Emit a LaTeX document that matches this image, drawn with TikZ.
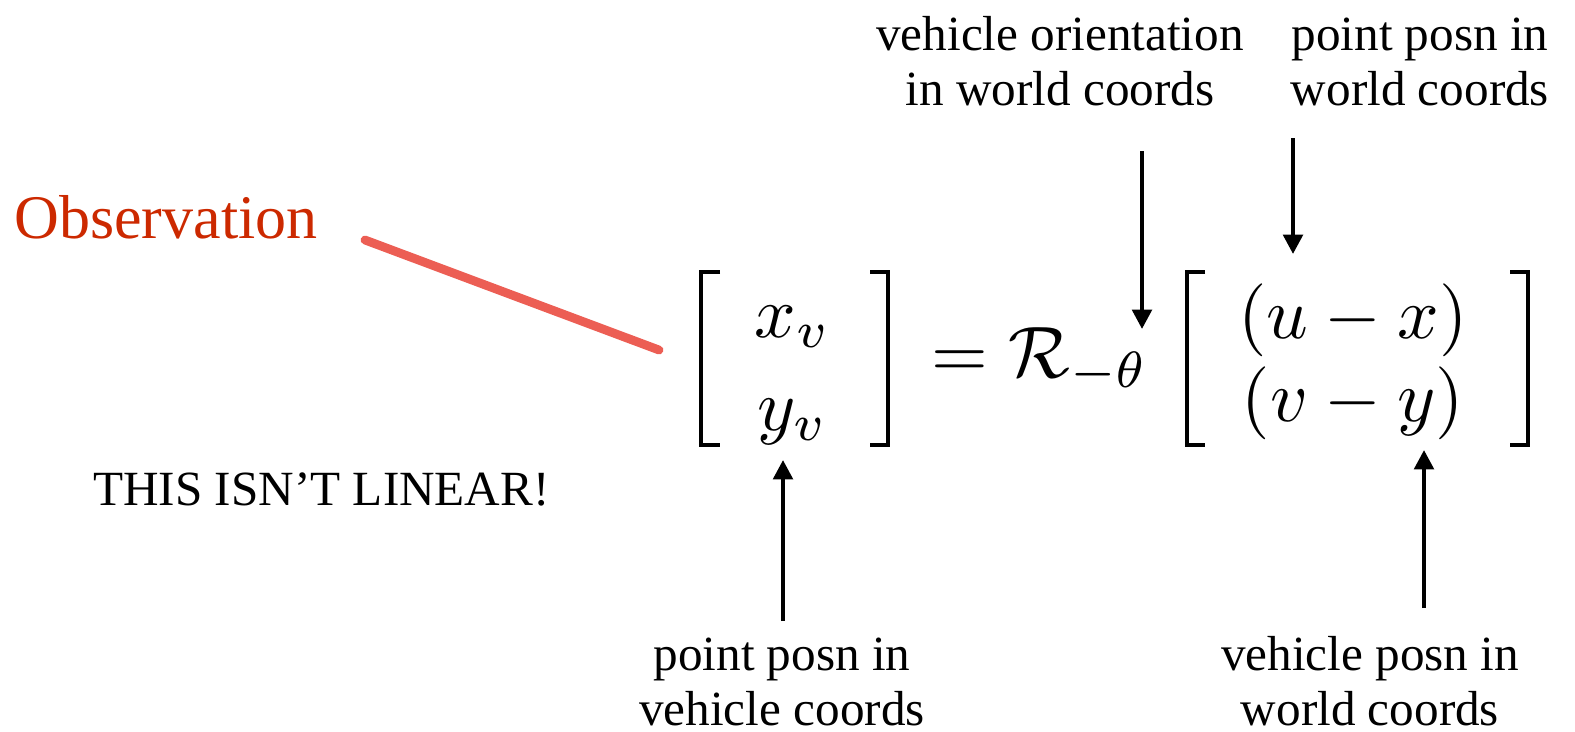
\documentclass[tikz,border=0pt]{standalone}
\usepackage[no-math]{fontspec}
\setmainfont{Liberation Serif}
\usepackage{amsmath,amssymb}
\usetikzlibrary{arrows.meta}
\definecolor{obsRed}{RGB}{204,41,0}
\definecolor{strokeRed}{RGB}{236,94,84}

\begin{document}
\begin{tikzpicture}[x=0.02cm,y=-0.02cm,
  lbl/.style={font=\fontsize{28}{31}\selectfont, align=center, anchor=base, inner sep=0pt},
  mth/.style={scale=4.15, anchor=base, inner sep=0pt},
  ptr/.style={line width=2.4pt, -{Triangle[width=11pt,length=11pt]}},
  brk/.style={line width=2.5pt}]
\useasboundingbox (0,0) rectangle (1575,731);

% left column
\node[lbl, text=obsRed, font=\fontsize{35.3}{42}\selectfont, anchor=base west] (obs) at (14,238) {Observation};
\node[lbl, anchor=base west] (lin) at (93,505) {THIS ISN'T LINEAR!};
\draw[strokeRed, line width=5pt, line cap=round] (365,240) -- (659,350);

% the equation
\node[mth] (xv) at (793,337) {$x_v$};
\node[mth] (yv) at (793,430) {$y_v$};
\node[mth, anchor=base west] (rot) at (930,377) {$=\mathcal{R}_{-\theta}$};
\node[mth] (ux) at (1353,338) {$(u-x)$};
\node[mth] (vy) at (1353,421) {$(v-y)$};
\draw[brk] (720,272) -| (701,445) -- (720,445);
\draw[brk] (870,272) -| (888,445) -- (870,445);
\draw[brk] (1205,272) -| (1187,445) -- (1205,445);
\draw[brk] (1510,272) -| (1528,445) -- (1510,445);

% labels (base = last line)
\node[lbl] (orient) at (1060,105) {vehicle orientation\\in world coords};
\node[lbl] (ptworld) at (1420,105) {point posn in\\world coords};
\node[lbl] (ptveh) at (782,725) {point posn in\\vehicle coords};
\node[lbl] (vehworld) at (1370,725) {vehicle posn in\\world coords};

% pointers
\coordinate (orientA) at (1142,151);
\coordinate (orientB) at (1142,329);
\coordinate (ptworldA) at (1293,138);
\coordinate (ptworldB) at (1293,254);
\coordinate (ptvehA) at (783,621);
\coordinate (ptvehB) at (783,460);
\coordinate (vehworldA) at (1424,608);
\coordinate (vehworldB) at (1424,450);
\draw[ptr] (orientA) -- (orientB);
\draw[ptr] (ptworldA) -- (ptworldB);
\draw[ptr] (ptvehA) -- (ptvehB);
\draw[ptr] (vehworldA) -- (vehworldB);
\end{tikzpicture}
\end{document}
